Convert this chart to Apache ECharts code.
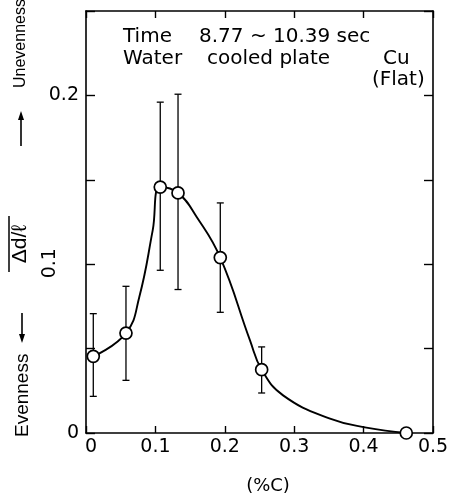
<!DOCTYPE html>
<html>
<head>
<meta charset="utf-8">
<script src="https://cdn.jsdelivr.net/npm/echarts@6/dist/echarts.min.js"></script>
<style>
html,body{margin:0;padding:0;background:#fff;}
#chart{width:453px;height:500px;}
</style>
</head>
<body>
<div id="chart"></div>
<script>
// ---- data ----
const carbon    = [0.0105, 0.0576, 0.107, 0.1326, 0.1935, 0.2531, 0.4615];
const meanRatio = [0.0454, 0.0592, 0.1457, 0.1422, 0.1039, 0.0375, 0];
const errLow    = [0.0217, 0.0312, 0.0964, 0.085, 0.0715, 0.0237, null];
const errHigh   = [0.0707, 0.0869, 0.196, 0.2007, 0.1363, 0.051, null];
// hand-drawn smooth curve
const curveC = [0.0105, 0.0576, 0.0768, 0.0961, 0.107, 0.1326, 0.1595, 0.1935, 0.2363, 0.2531, 0.284, 0.3516, 0.404, 0.4615];
const curveV = [0.0454, 0.0592, 0.0806, 0.12, 0.1457, 0.1422, 0.128, 0.1039, 0.0549, 0.0375, 0.0223, 0.0085, 0.0032, 0];
const xTickLabels = ['0', '0.1', '0.2', '0.3', '0.4', '0.5'];
const yTickLabels = ['0', '0.1', '0.2'];

const chart = echarts.init(document.getElementById('chart'), null, {renderer: 'canvas'});
const tickFont = 'DejaVu Sans';
const near = (a, b) => Math.abs(a - b) < 1e-9;

const points = carbon.map((c, i) => [c, meanRatio[i]]);
const bars = carbon.map((c, i) => [c, errLow[i], errHigh[i]]).filter(d => d[1] != null);
const curve = curveC.map((c, i) => [c, curveV[i]]);

const axisLine = {show: true, onZero: false, lineStyle: {color: '#000', width: 1.6}};

const option = {
  backgroundColor: '#fff',
  animation: false,
  grid: {left: 86, right: 20, top: 11, bottom: 67, containLabel: false},
  xAxis: [{
    type: 'value', min: 0, max: 0.5, interval: 0.1, position: 'bottom',
    axisLine: axisLine,
    axisTick: {show: true, inside: true, length: 7, lineStyle: {color: '#000', width: 1.4}},
    splitLine: {show: false},
    axisLabel: {
      margin: 5, color: '#000', fontFamily: tickFont, fontSize: 19,
      formatter: v => {
        const s = xTickLabels.find(t => near(parseFloat(t), v));
        if (s === undefined) return '';
        return near(v, 0) ? '{z|0}' : s;
      },
      rich: {z: {padding: [0, 0, 0, 10], fontFamily: tickFont, fontSize: 19, color: '#000'}}
    }
  }, {
    type: 'value', min: 0, max: 0.5, interval: 0.1, position: 'top',
    axisLine: axisLine,
    axisTick: {show: true, inside: true, length: 7, lineStyle: {color: '#000', width: 1.4}},
    axisLabel: {show: false}, splitLine: {show: false}
  }],
  yAxis: [{
    type: 'value', min: 0, max: 0.25, interval: 0.05, position: 'left',
    axisLine: axisLine,
    axisTick: {show: true, inside: true, length: 9, lineStyle: {color: '#000', width: 1.4}},
    splitLine: {show: false},
    axisLabel: {
      margin: 7, color: '#000', fontFamily: tickFont, fontSize: 19,
      formatter: v => (near(v, 0) || near(v, 0.2)) ? yTickLabels.find(t => near(parseFloat(t), v)) : ''
    }
  }, {
    type: 'value', min: 0, max: 0.25, interval: 0.05, position: 'right',
    axisLine: axisLine,
    axisTick: {show: true, inside: true, length: 9, lineStyle: {color: '#000', width: 1.4}},
    axisLabel: {show: false}, splitLine: {show: false}
  }],
  series: [{
    type: 'custom',
    xAxisIndex: 0, yAxisIndex: 0,
    z: 3,
    data: bars,
    renderItem: (params, api) => {
      const x = api.value(0);
      const lo = api.coord([x, api.value(1)]);
      const hi = api.coord([x, api.value(2)]);
      const w = 3.5;
      const st = {stroke: '#000', lineWidth: 1.3};
      return {type: 'group', children: [
        {type: 'line', shape: {x1: lo[0], y1: lo[1], x2: hi[0], y2: hi[1]}, style: st},
        {type: 'line', shape: {x1: lo[0] - w, y1: lo[1], x2: lo[0] + w, y2: lo[1]}, style: st},
        {type: 'line', shape: {x1: hi[0] - w, y1: hi[1], x2: hi[0] + w, y2: hi[1]}, style: st}
      ]};
    }
  }, {
    type: 'line',
    xAxisIndex: 0, yAxisIndex: 0,
    z: 4,
    data: curve,
    smooth: 0.45,
    showSymbol: false,
    symbol: 'none',
    clip: false,
    lineStyle: {color: '#000', width: 1.9}
  }, {
    type: 'scatter',
    xAxisIndex: 0, yAxisIndex: 0,
    z: 5,
    clip: false,
    data: points,
    symbol: 'circle',
    symbolSize: 12,
    itemStyle: {color: '#fff', borderColor: '#000', borderWidth: 1.7, opacity: 1}
  }]
};
chart.setOption(option);

// annotations (positioned after the axes are laid out)
const p01 = chart.convertToPixel({gridIndex: 0}, [0, 0.1]);
const txt = '#000';
const arrowUp = (x, y1, y2) => ([
  {type: 'line', shape: {x1: x, y1: y1, x2: x, y2: y2 + 6}, style: {stroke: txt, lineWidth: 1.6}},
  {type: 'polygon', shape: {points: [[x, y2], [x - 3, y2 + 9], [x + 3, y2 + 9]]}, style: {fill: txt}}
]);
const arrowDown = (x, y1, y2) => ([
  {type: 'line', shape: {x1: x, y1: y1, x2: x, y2: y2 - 6}, style: {stroke: txt, lineWidth: 1.6}},
  {type: 'polygon', shape: {points: [[x, y2], [x - 3, y2 - 9], [x + 3, y2 - 9]]}, style: {fill: txt}}
]);
const sideFont = 'Liberation Sans';
chart.setOption({
  graphic: [
    {type: 'text', x: 123, y: 37, style: {text: 'Time', fontFamily: tickFont, fontSize: 20, fill: txt, verticalAlign: 'middle'}},
    {type: 'text', x: 199, y: 37, style: {text: '8.77 ~ 10.39 sec', fontFamily: tickFont, fontSize: 20, fill: txt, verticalAlign: 'middle'}},
    {type: 'text', x: 123, y: 58.5, style: {text: 'Water', fontFamily: tickFont, fontSize: 20, fill: txt, verticalAlign: 'middle'}},
    {type: 'text', x: 207, y: 58.5, style: {text: 'cooled plate', fontFamily: tickFont, fontSize: 20, fill: txt, verticalAlign: 'middle'}},
    {type: 'text', x: 383, y: 58.5, style: {text: 'Cu', fontFamily: tickFont, fontSize: 20, fill: txt, verticalAlign: 'middle'}},
    {type: 'text', x: 372, y: 80, style: {text: '(Flat)', fontFamily: tickFont, fontSize: 20, fill: txt, verticalAlign: 'middle'}},
    {type: 'text', x: 268, y: 486, style: {text: '(%C)', fontFamily: tickFont, fontSize: 18, fill: txt, align: 'center', verticalAlign: 'middle'}},
    // rotated y tick label 0.1
    {type: 'text', x: p01[0] - 36, y: p01[1] - 1, rotation: Math.PI / 2,
      style: {text: '0.1', fontFamily: tickFont, fontSize: 19, fill: txt, align: 'center', verticalAlign: 'middle'}},
    // left-side axis name pieces
    {type: 'text', x: 21, y: 88, rotation: Math.PI / 2,
      style: {text: 'Unevenness', fontFamily: sideFont, fontSize: 16, fill: txt, align: 'left', verticalAlign: 'middle'}},
    {type: 'text', x: 23, y: 437, rotation: Math.PI / 2,
      style: {text: 'Evenness', fontFamily: sideFont, fontSize: 19, fill: txt, align: 'left', verticalAlign: 'middle'}},
    {type: 'text', x: 20, y: 244, rotation: Math.PI / 2,
      style: {text: 'Δd/ℓ', fontFamily: sideFont, fontSize: 21, fill: txt, align: 'center', verticalAlign: 'middle'}},
    {type: 'line', shape: {x1: 9, y1: 216, x2: 9, y2: 272}, style: {stroke: txt, lineWidth: 1.5}},
    ...arrowUp(21, 146, 111),
    ...arrowDown(22, 313, 343)
  ]
});
</script>
</body>
</html>
